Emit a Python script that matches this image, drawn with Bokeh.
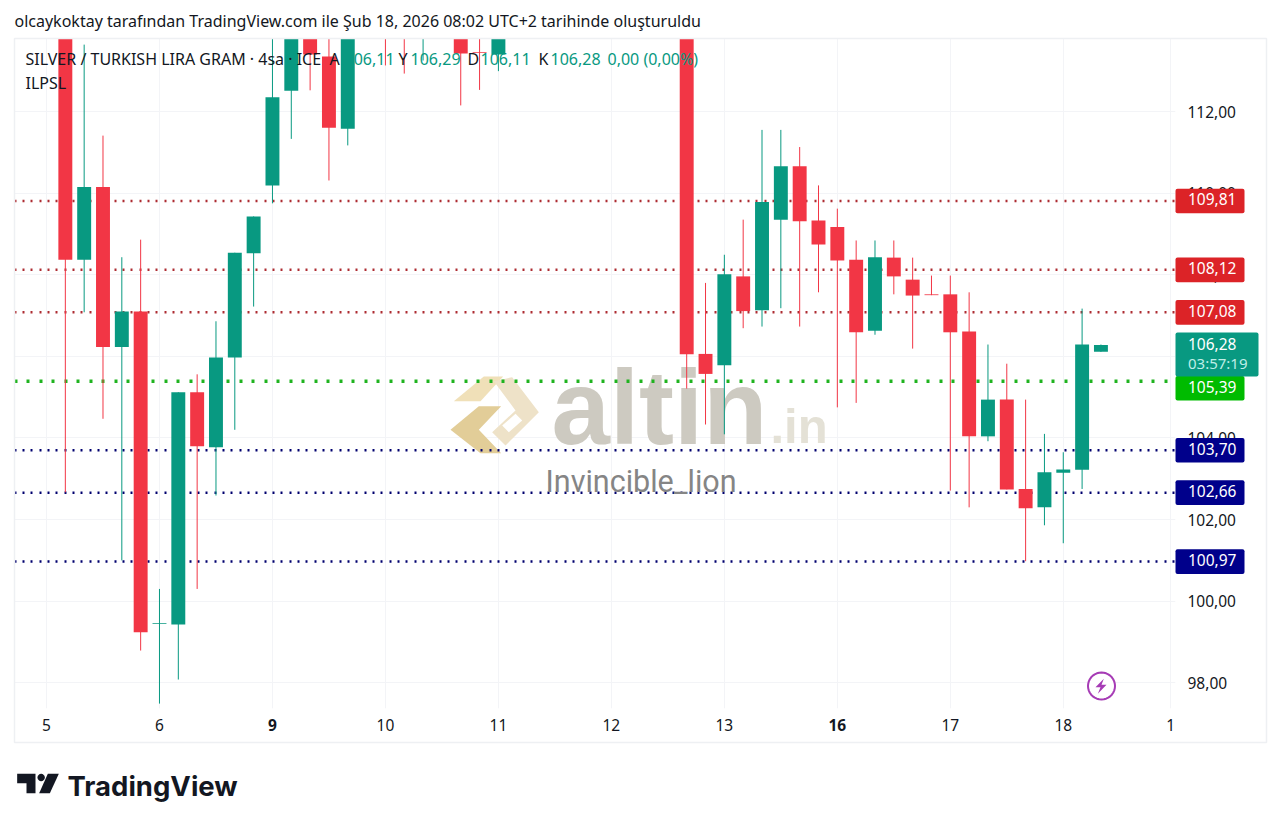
from bokeh.embed import file_html
from bokeh.resources import INLINE
from bokeh.plotting import figure
from bokeh.models import (ColumnDataSource, FixedTicker, Range1d, Label, Span,
                          BoxAnnotation, PolyAnnotation)
import math

# ---------- data ----------
idx = [1,2,3,4,5,6,7,8,9,10,11,12,13,14,15,16,18,19,20,22,23,24,
       34,35,36,37,38,39,40,41,42,43,44,45,46,47,48,49,50,51,52,53,54,55,56]
opens = [114.6,108.37,110.15,106.23,107.10,99.44,99.43,105.12,103.77,105.97,108.53,110.19,112.51,114.5,113.35,111.58,114.6,114.8,114.0,114.2,113.46,113.40,
         115.0,106.06,105.78,107.96,107.13,109.35,110.66,109.33,109.17,108.37,106.63,108.42,107.88,107.52,107.52,106.61,104.04,104.94,102.75,102.30,103.15,103.22,106.11]
highs = [115.2,113.64,111.41,108.43,108.86,100.30,105.12,105.56,106.86,108.54,109.43,114.5,114.8,114.6,114.0,114.6,115.0,115.0,114.8,114.6,114.2,114.6,
         115.2,107.80,108.49,109.35,111.55,111.55,111.13,110.19,109.62,108.84,108.84,108.84,108.42,107.98,107.98,107.57,106.29,105.82,104.94,104.10,103.65,107.17,106.29]
lows = [102.67,107.08,104.47,101.00,98.79,97.49,98.08,100.30,102.59,104.20,107.22,109.75,111.33,112.52,110.31,111.17,113.13,112.93,113.25,112.15,112.53,112.99,
        105.21,104.33,104.09,106.69,106.73,107.18,106.73,107.57,104.75,104.86,106.53,107.52,106.19,107.50,102.71,102.30,103.92,102.74,100.98,101.86,101.42,102.75,106.11]
closes = [108.37,110.15,106.23,107.10,99.24,99.46,105.12,103.80,105.97,108.54,109.43,112.35,114.4,113.40,111.60,114.3,114.1,114.2,114.6,113.42,113.44,114.3,
          106.05,105.57,108.01,107.11,109.78,110.66,109.31,108.74,108.35,106.59,108.43,107.96,107.49,107.50,106.59,104.04,104.94,102.74,102.28,103.16,103.23,106.29,106.28]

red_levels = [109.81, 108.12, 107.08]
green_levels = [105.39]
navy_levels = [103.70, 102.66, 100.97]
price_ticks = [98, 100, 102, 104, 106, 108, 110, 112]
day_ticks = [0, 6, 12, 18, 24, 30, 36, 42, 48, 54, 59.7]
day_labels = ["5", "6", "9", "10", "11", "12", "13", "16", "17", "18", "1"]
bold_days = ["9", "16"]
last_price = 106.28
countdown = "03:57:19"

# ---------- style ----------
UP, DOWN = "#089981", "#F23645"
FONT = "Noto Sans"
INK = "#131722"
W, H = 1272, 818

def fmt(v):
    return f"{v:.2f}".replace(".", ",")

# main chart: frame x 14..1175, y 38..708
p = figure(width=W, height=H, output_backend="svg", toolbar_location=None,
           x_range=Range1d(-1.70, 59.96), y_range=Range1d(97.37, 113.79),
           y_axis_location="right", min_border_left=14, min_border_right=W - 1175,
           min_border_top=38, min_border_bottom=H - 708, title=None,
           background_fill_color="white", border_fill_color="white")
p.outline_line_color = None

for ax in (p.xaxis[0], p.yaxis[0]):
    ax.axis_line_color = None
    ax.major_tick_line_color = None
    ax.minor_tick_line_color = None
    ax.major_label_text_font = FONT
    ax.major_label_text_color = INK
    ax.major_label_text_font_size = "15.5px"

p.xaxis.ticker = FixedTicker(ticks=day_ticks)
p.xaxis.major_label_overrides = {t: ("" if l in bold_days else l) for t, l in zip(day_ticks, day_labels)}
p.xaxis.major_label_standoff = 4
p.yaxis.ticker = FixedTicker(ticks=price_ticks)
p.yaxis.major_label_overrides = {t: fmt(t) for t in price_ticks}
p.yaxis.major_label_standoff = 6
p.yaxis.major_label_text_align = "left"
p.yaxis.major_label_text_line_height = 0.8
p.xgrid.grid_line_color = "#f3f4f7"
p.ygrid.grid_line_color = "#f3f4f7"

# overlay on the same spot: its frame is the whole canvas, so nothing in it is cut at the pane
ov = figure(width=W, height=H, output_backend="svg", toolbar_location=None,
            x_range=Range1d(0, W), y_range=Range1d(H, 0), x_axis_type=None, y_axis_type=None,
            min_border=0, title=None, background_fill_color=None, border_fill_color=None,
            styles={"position": "absolute", "left": "0px", "top": "0px"})
ov.outline_line_color = None
ov.xgrid.visible = False
ov.ygrid.visible = False

def zoom_pts(pts, ox=430, oy=360, s=3):
    return [ox + a / s for a, b in pts], [oy + b / s for a, b in pts]

def poly(fig, xs, ys, col, **kw):
    fig.add_layout(PolyAnnotation(xs=xs, ys=ys, xs_units="canvas", ys_units="canvas",
                                  fill_color=col, fill_alpha=1, line_color=None, **kw))

# watermark under the candles
for pts, col in [
    ([(70,122),(160,48),(218,48),(150,122)], "#f0e0b8"),
    ([(60,208),(145,137),(212,137),(145,208),(212,278),(150,278)], "#e2cd98"),
    ([(190,62),(245,50),(325,155),(225,255),(185,215),(255,150)], "#eee2c8"),
    ([(215,195),(255,160),(275,180),(235,215)], "#ffffff"),
]:
    xs, ys = zoom_pts(pts)
    poly(p, xs, ys, col, level="underlay")

p.add_layout(Label(x=551, y=407, x_units="canvas", y_units="canvas", text="altin",
                   text_font="Liberation Sans", text_font_style="bold", text_font_size="105px",
                   text_color="#cdcac1", text_baseline="alphabetic", level="underlay"))
p.add_layout(Label(x=770, y=425, x_units="canvas", y_units="canvas", text=".in",
                   text_font="Liberation Sans", text_font_style="bold", text_font_size="49px",
                   text_color="#e4e1d6", text_baseline="alphabetic", level="underlay"))

# price levels
for levels, col, w, dash in [(red_levels, "#ad2c32", 2.5, "2 6 2 6 2 7"),
                             (green_levels, "#1fb31f", 3.5, "3 9 3 10"),
                             (navy_levels, "#00006e", 2.5, "2 6 2 6 2 7")]:
    for lv in levels:
        p.add_layout(Span(location=lv, dimension="width", line_color=col, line_width=w,
                          line_dash=dash, level="underlay"))

# candles
colors = [UP if c >= o else DOWN for o, c in zip(opens, closes)]
src = ColumnDataSource(dict(x=idx, high=highs, low=lows,
                            top=[max(o, c) for o, c in zip(opens, closes)],
                            bottom=[min(o, c) for o, c in zip(opens, closes)],
                            color=colors))
p.segment("x", "high", "x", "low", source=src, line_color="color", line_width=1)
p.vbar("x", 0.74, "bottom", "top", source=src, fill_color="color", line_color=None)

# ---------- overlay ----------
ov.add_layout(BoxAnnotation(left=14, right=1266, top=38, bottom=742,
                            left_units="canvas", right_units="canvas", top_units="canvas", bottom_units="canvas",
                            fill_alpha=0, line_color="#eef0f3", line_alpha=1, line_width=1.5))

def txt(px, py, s, col=INK, size="16px", font=FONT, style="normal", align="left"):
    ov.add_layout(Label(x=px, y=py, x_units="canvas", y_units="canvas", text=s,
                        text_font=font, text_font_size=size, text_font_style=style,
                        text_color=col, text_baseline="middle", text_align=align))

def box(left, right, top, bottom, col):
    ov.add_layout(BoxAnnotation(left=left, right=right, top=top, bottom=bottom,
                                left_units="canvas", right_units="canvas", top_units="canvas", bottom_units="canvas",
                                fill_color=col, fill_alpha=1, line_color=None, border_radius=2))

for t, l in zip(day_ticks, day_labels):
    if l in bold_days:
        txt(46 + 18.83 * t, 724, l, size="15.5px", style="bold", align="center")

def badge(level, col, shift=0):
    yc = 600.7 - (level - 100) * 40.8 + shift
    box(1175, 1244, yc - 12.3, yc + 12.3, col)
    txt(1187.5, yc - 1.5, fmt(level), "white", "15.5px")

for lv in red_levels:
    badge(lv, "#dc2327")
for lv in green_levels:
    badge(lv, "#00bb00", shift=7)   # the countdown box pushes this badge down
for lv in navy_levels:
    badge(lv, "#00008b")

box(1175, 1258, 332, 376, UP)
txt(1187.5, 343, fmt(last_price), "white", "15.5px")
txt(1187.5, 362, countdown, "#bfeee7", "15px")

txt(14, 20, "olcaykoktay tarafından TradingView.com ile Şub 18, 2026 08:02 UTC+2 tarihinde oluşturuldu", size="16px")
txt(25, 58, "SILVER / TURKISH LIRA GRAM · 4sa · ICE")
txt(25, 82, "ILPSL")
for px, s, col in [(329, "A", INK), (344, "106,11", UP), (398, "Y", INK), (410, "106,29", UP),
                   (467, "D", INK), (480, "106,11", UP), (538, "K", INK), (550, "106,28", UP),
                   (607, "0,00 (0,00%)", UP)]:
    txt(px, 58, s, col)

txt(545, 481, "Invincible_lion", "#858585", "30.5px", "Roboto")

# lightning icon
ring = [(1101 + 13.5 * math.cos(a * math.pi / 18), 685.5 + 13.5 * math.sin(a * math.pi / 18)) for a in range(36)]
ov.add_layout(PolyAnnotation(xs=[a for a, b in ring], ys=[b for a, b in ring],
                             xs_units="canvas", ys_units="canvas", fill_color="white", fill_alpha=1,
                             line_color="#a63bb5", line_alpha=1, line_width=2))
bolt = [(190,775),(165,800),(180,800),(172,820),(198,793),(183,793)]
xs, ys = zoom_pts(bolt, 1040, 420)
poly(ov, xs, ys, "#a63bb5")

# TradingView logo
for pts in [[(50,250),(105,250),(105,308),(78,308),(78,278),(50,278)],
            [(142,250),(175,250),(148,308),(116,308)]]:
    xs, ys = zoom_pts(pts, 0, 690)
    poly(ov, xs, ys, "#131722")
dot = [(122 + 11 * math.cos(a * math.pi / 8), 261 + 11 * math.sin(a * math.pi / 8)) for a in range(16)]
xs, ys = zoom_pts(dot, 0, 690)
poly(ov, xs, ys, "#131722")
txt(67, 785, "TradingView", "#131722", "27.5px", "Inter", "bold")

open("out.html", "w").write(file_html((p, ov), INLINE))
